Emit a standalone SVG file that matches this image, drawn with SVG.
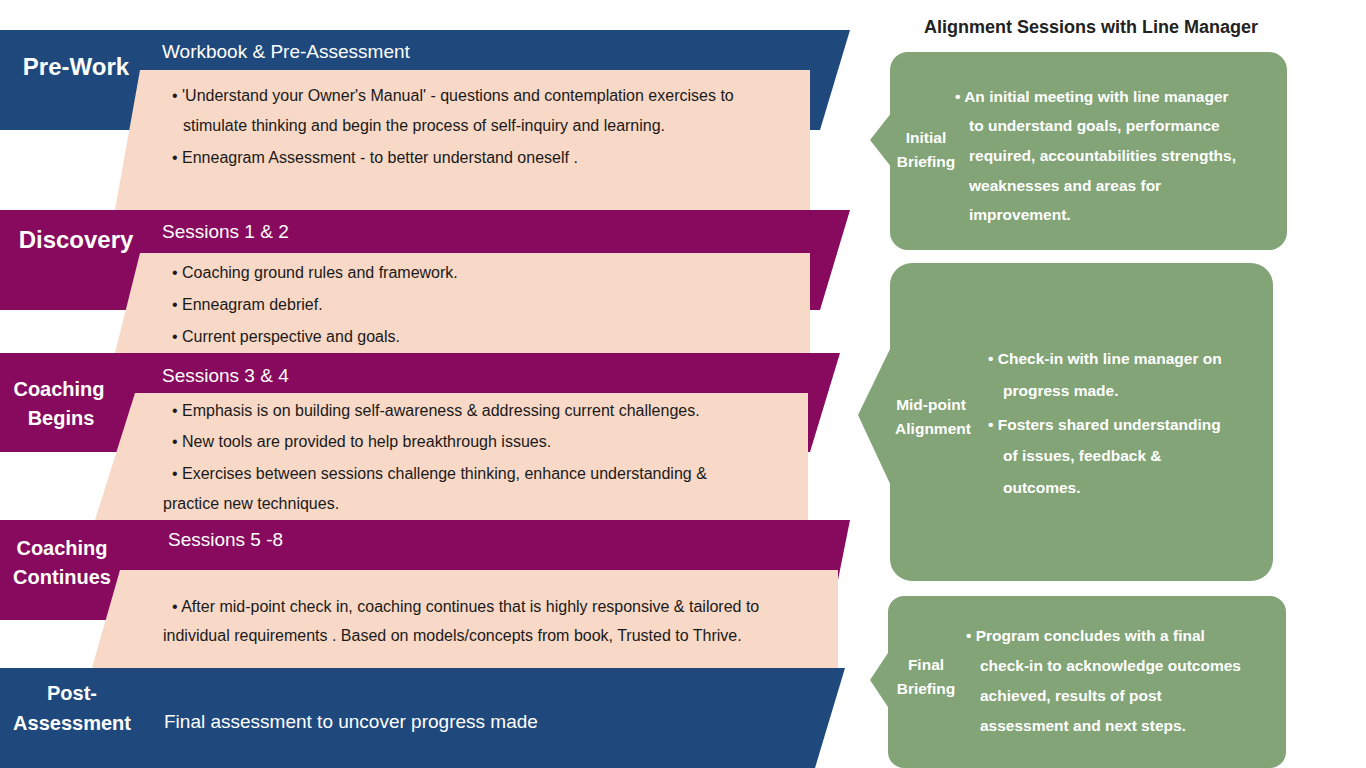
<svg xmlns="http://www.w3.org/2000/svg" width="1366" height="768" viewBox="0 0 1366 768">
<style>
.blue{fill:#1f497d}.pur{fill:#870a5e}.peach{fill:#f8d8c6}.green{fill:#82a477}
.h{font-family:"Liberation Sans",Arial,sans-serif;font-weight:bold;fill:#fff;font-size:24px}
.hs{font-family:"Liberation Sans",Arial,sans-serif;font-weight:bold;fill:#fff;font-size:20px}
.sub{font-family:"Liberation Sans",Arial,sans-serif;fill:#fff;font-size:19px}
.b{font-family:"Liberation Sans",Arial,sans-serif;fill:#1a1a1a;font-size:16px}
.g{font-family:"Liberation Sans",Arial,sans-serif;font-weight:bold;fill:#fff;font-size:15.5px}
.t{font-family:"Liberation Sans",Arial,sans-serif;font-weight:bold;fill:#222;font-size:18px}
</style>
<rect width="1366" height="768" fill="#fff"/>
<g id="prework">
<polygon class="blue" points="0,30 850,30 820,130 0,130"/>
<polygon class="peach" points="140,70 810,70 810,210 115,210"/>
<text class="h" x="76" y="75" text-anchor="middle">Pre-Work</text>
<text class="sub" x="162" y="58">Workbook &amp; Pre-Assessment</text>
<text class="b" x="172" y="101">• 'Understand your Owner's Manual' - questions and contemplation exercises to</text>
<text class="b" x="183" y="131">stimulate thinking and begin the process of self-inquiry and learning.</text>
<text class="b" x="172" y="163">• Enneagram Assessment - to better understand oneself .</text>
</g>
<g id="discovery">
<polygon class="pur" points="0,210 850,210 820,310 0,310"/>
<polygon class="peach" points="140,253 810,253 810,353 115,353"/>
<text class="h" x="76" y="248" text-anchor="middle">Discovery</text>
<text class="sub" x="162" y="238">Sessions 1 &amp; 2</text>
<text class="b" x="172" y="278">• Coaching ground rules and framework.</text>
<text class="b" x="172" y="310">• Enneagram debrief.</text>
<text class="b" x="172" y="342">• Current perspective and goals.</text>
</g>
<g id="coaching-begins">
<polygon class="pur" points="0,353 840,353 810,452 0,452"/>
<polygon class="peach" points="135,393 808,393 808,520 95,520"/>
<text class="hs" x="59" y="396" text-anchor="middle">Coaching</text>
<text class="hs" x="61" y="425" text-anchor="middle">Begins</text>
<text class="sub" x="162" y="382">Sessions 3 &amp; 4</text>
<text class="b" x="172" y="416">• Emphasis is on building self-awareness &amp; addressing current challenges.</text>
<text class="b" x="172" y="447">• New tools are provided to help breakthrough issues.</text>
<text class="b" x="172" y="479">• Exercises between sessions challenge thinking, enhance understanding &amp;</text>
<text class="b" x="163" y="509">practice new techniques.</text>
</g>
<g id="coaching-continues">
<polygon class="pur" points="0,520 850,520 830,620 0,620"/>
<polygon class="peach" points="120,570 838,570 838,668 92,668"/>
<text class="hs" x="62" y="555" text-anchor="middle">Coaching</text>
<text class="hs" x="62" y="584" text-anchor="middle">Continues</text>
<text class="sub" x="168" y="546">Sessions 5 -8</text>
<text class="b" x="172" y="612">• After mid-point check in, coaching continues that is highly responsive &amp; tailored to</text>
<text class="b" x="163" y="641">individual requirements . Based on models/concepts from book, Trusted to Thrive.</text>
</g>
<g id="post-assessment">
<polygon class="blue" points="0,668 845,668 815,768 0,768"/>
<text class="hs" x="72" y="700" text-anchor="middle">Post-</text>
<text class="hs" x="72" y="730" text-anchor="middle">Assessment</text>
<text class="sub" x="164" y="728">Final assessment to uncover progress made</text>
</g>
<text class="t" x="1091" y="33" text-anchor="middle">Alignment Sessions with Line Manager</text>
<g id="initial-briefing">
<rect class="green" x="890" y="52" width="397" height="198" rx="18"/>
<polygon class="green" points="892,112 870,140 892,168"/>
<text class="g" x="926" y="143" text-anchor="middle">Initial</text>
<text class="g" x="926" y="167" text-anchor="middle">Briefing</text>
<text class="g" x="955" y="102">• An initial meeting with  line manager</text>
<text class="g" x="969" y="131">to understand  goals,  performance</text>
<text class="g" x="969" y="161">required, accountabilities strengths,</text>
<text class="g" x="969" y="191">weaknesses and areas for</text>
<text class="g" x="969" y="220">improvement.</text>
</g>
<g id="mid-point">
<rect class="green" x="890" y="263" width="383" height="318" rx="22"/>
<polygon class="green" points="892,345 858,415 892,488"/>
<text class="g" x="931" y="410" text-anchor="middle">Mid-point</text>
<text class="g" x="933" y="434" text-anchor="middle">Alignment</text>
<text class="g" x="988" y="364">• Check-in with line manager on</text>
<text class="g" x="1003" y="396">progress made.</text>
<text class="g" x="988" y="430">•  Fosters shared understanding</text>
<text class="g" x="1003" y="461">of issues, feedback &amp;</text>
<text class="g" x="1003" y="493">outcomes.</text>
</g>
<g id="final-briefing">
<rect class="green" x="888" y="596" width="398" height="172" rx="16"/>
<polygon class="green" points="890,650 870,680 890,710"/>
<text class="g" x="926" y="670" text-anchor="middle">Final</text>
<text class="g" x="926" y="694" text-anchor="middle">Briefing</text>
<text class="g" x="966" y="641">• Program concludes with a final</text>
<text class="g" x="980" y="671">check-in to acknowledge outcomes</text>
<text class="g" x="980" y="701">achieved, results of post</text>
<text class="g" x="980" y="731">assessment and next steps.</text>
</g>
<g id="connectors"></g>
</svg>
